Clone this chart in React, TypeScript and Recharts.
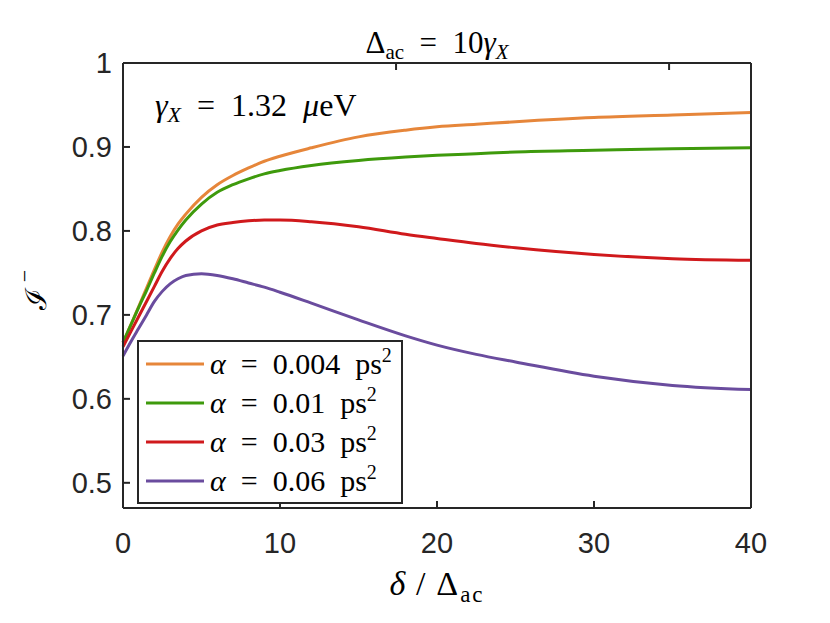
import React from 'react';
import { LineChart, Line, XAxis, YAxis, Legend } from 'recharts';

// detuning ratio delta / Delta_ac
const deltaRatio = [0, 0.5, 1, 1.5, 2, 2.5, 3, 3.5, 4, 5, 6, 7, 8, 9, 10, 12, 15, 18, 20, 22.5, 25, 30, 35, 40];

// I^- for each alpha
const alpha004 = [0.667, 0.688, 0.710, 0.732, 0.754, 0.775, 0.793, 0.808, 0.820, 0.840, 0.855, 0.866, 0.875, 0.883, 0.889, 0.899, 0.912, 0.920, 0.924, 0.927, 0.930, 0.935, 0.938, 0.941];
const alpha01 = [0.667, 0.688, 0.709, 0.729, 0.750, 0.770, 0.787, 0.801, 0.813, 0.832, 0.846, 0.855, 0.862, 0.868, 0.872, 0.878, 0.884, 0.888, 0.890, 0.892, 0.894, 0.896, 0.898, 0.899];
const alpha03 = [0.662, 0.680, 0.698, 0.716, 0.734, 0.752, 0.767, 0.779, 0.788, 0.800, 0.807, 0.810, 0.812, 0.813, 0.813, 0.811, 0.805, 0.796, 0.791, 0.785, 0.780, 0.772, 0.767, 0.765];
const alpha06 = [0.651, 0.668, 0.684, 0.700, 0.716, 0.728, 0.737, 0.743, 0.747, 0.749, 0.747, 0.743, 0.738, 0.733, 0.727, 0.714, 0.694, 0.675, 0.664, 0.653, 0.644, 0.627, 0.616, 0.611];

const alphaLabels = ['0.004', '0.01', '0.03', '0.06'];
const seriesKeys = ['a004', 'a01', 'a03', 'a06'];
const seriesColors = ['#E6863A', '#3E9A0C', '#D0191C', '#6A4C9E'];

const xTicks = [0, 10, 20, 30, 40];
const yTicks = [0.5, 0.6, 0.7, 0.8, 0.9, 1];

const data = deltaRatio.map((d, i) => ({
  d,
  a004: alpha004[i],
  a01: alpha01[i],
  a03: alpha03[i],
  a06: alpha06[i],
}));

const axisColor = '#262626';
const serif = '"Liberation Serif", "Times New Roman", serif';
const sans = '"Liberation Sans", Arial, Helvetica, sans-serif';
const lineStyle = { stroke: axisColor, strokeWidth: 2 };
const TICK_LEN = 7;

// MATLAB style: ticks point into the plot box
const InTick = ({ x, y, payload, side }: any) => {
  const label = String(payload.value);
  if (side === 'bottom') {
    return (
      <g>
        <line x1={x} y1={y} x2={x} y2={y - TICK_LEN} stroke={axisColor} strokeWidth={2} />
        <text x={x} y={y + 45} textAnchor="middle" fontSize={29} fill={axisColor} fontFamily={sans}>{label}</text>
      </g>
    );
  }
  if (side === 'left') {
    return (
      <g>
        <line x1={x} y1={y} x2={x + TICK_LEN} y2={y} stroke={axisColor} strokeWidth={2} />
        <text x={x - 11} y={y + 10} textAnchor="end" fontSize={29} fill={axisColor} fontFamily={sans}>{label}</text>
      </g>
    );
  }
  if (side === 'top') {
    return <line x1={x} y1={y} x2={x} y2={y + TICK_LEN} stroke={axisColor} strokeWidth={2} />;
  }
  return <line x1={x} y1={y} x2={x - TICK_LEN} y2={y} stroke={axisColor} strokeWidth={2} />;
};

const LegendBox = ({ payload }: any) => (
  <div
    style={{
      width: 262,
      height: 158,
      border: `2px solid ${axisColor}`,
      background: '#fff',
      paddingTop: 2,
      fontFamily: serif,
      fontSize: 30,
      color: '#000',
    }}
  >
    {(payload || []).map((entry: any, i: number) => (
      <div key={i} style={{ height: 39, display: 'flex', alignItems: 'center', whiteSpace: 'nowrap' }}>
        <svg width={66} height={10} style={{ flex: 'none', marginLeft: 5 }}>
          <line x1={2} y1={5} x2={60} y2={5} stroke={entry.color} strokeWidth={3} />
        </svg>
        <span>
          <i>α</i>{'\u2002=\u2002'}{alphaLabels[i]}{'\u2002'}ps<sup style={{ fontSize: 20, verticalAlign: 12, lineHeight: 0 }}>2</sup>
        </span>
      </div>
    ))}
  </div>
);

export default function App() {
  return (
    <div style={{ position: 'absolute', left: 0, top: 0, width: 830, height: 623, background: '#fff' }}>
      <LineChart
        width={830}
        height={623}
        data={data}
        margin={{ top: 62, right: 78, left: 0, bottom: 0 }}
      >
        <XAxis
          xAxisId="b"
          dataKey="d"
          type="number"
          domain={[0, 40]}
          ticks={xTicks}
          interval={0}
          height={115}
          tickSize={0}
          tickMargin={0}
          tick={<InTick side="bottom" />}
          axisLine={lineStyle}
          tickLine={false}
        />
        <XAxis
          xAxisId="t"
          orientation="top"
          type="number"
          domain={[0, 40]}
          ticks={xTicks}
          interval={0}
          height={1}
          tickSize={0}
          tickMargin={0}
          tick={<InTick side="top" />}
          axisLine={lineStyle}
          tickLine={false}
        />
        <YAxis
          yAxisId="l"
          type="number"
          domain={[0.47, 1]}
          ticks={yTicks}
          interval={0}
          width={123}
          tickSize={0}
          tickMargin={0}
          tick={<InTick side="left" />}
          axisLine={lineStyle}
          tickLine={false}
        />
        <YAxis
          yAxisId="r"
          orientation="right"
          type="number"
          domain={[0.47, 1]}
          ticks={yTicks}
          interval={0}
          width={1}
          tickSize={0}
          tickMargin={0}
          tick={<InTick side="right" />}
          axisLine={lineStyle}
          tickLine={false}
        />
        {seriesKeys.map((k, i) => (
          <Line
            key={k}
            xAxisId="b"
            yAxisId="l"
            type="monotone"
            dataKey={k}
            name={alphaLabels[i]}
            stroke={seriesColors[i]}
            strokeWidth={3}
            dot={false}
            isAnimationActive={false}
          />
        ))}
        <Legend
          layout="vertical"
          align="center"
          verticalAlign="middle"
          content={<LegendBox />}
          wrapperStyle={{ left: 137, top: 340, width: 266, height: 162 }}
        />
      </LineChart>
      <svg
        width={830}
        height={623}
        style={{ position: 'absolute', left: 0, top: 0, pointerEvents: 'none' }}
        fontFamily={serif}
      >
        <text x={437} y={53} textAnchor="middle" fontSize={31} fill="#000">
          <tspan>Δ</tspan>
          <tspan fontSize={21} dy={6}>ac</tspan>
          <tspan dy={-6}>{'\u2002=\u200210'}</tspan>
          <tspan fontStyle="italic">γ</tspan>
          <tspan fontStyle="italic" fontSize={21} dy={6}>X</tspan>
        </text>
        <text x={155} y={116} fontSize={32} fill="#000">
          <tspan fontStyle="italic">γ</tspan>
          <tspan fontStyle="italic" fontSize={22} dy={6}>X</tspan>
          <tspan dy={-6}>{'\u2002=\u20021.32\u2002'}</tspan>
          <tspan fontStyle="italic">μ</tspan>
          <tspan>eV</tspan>
        </text>
        <text x={437} y={595} textAnchor="middle" fontSize={34} fill="#000" letterSpacing={2}>
          <tspan fontStyle="italic">δ</tspan>
          <tspan>{'\u2009/\u2009Δ'}</tspan>
          <tspan fontSize={23} dy={7}>ac</tspan>
        </text>
        <text transform="translate(46 299) rotate(-90)" textAnchor="middle" fontSize={29} fill="#000">ℐ</text>
        <text transform="translate(32 276) rotate(-90)" textAnchor="middle" fontSize={22} fill="#000" fontFamily={serif}>−</text>
      </svg>
    </div>
  );
}
